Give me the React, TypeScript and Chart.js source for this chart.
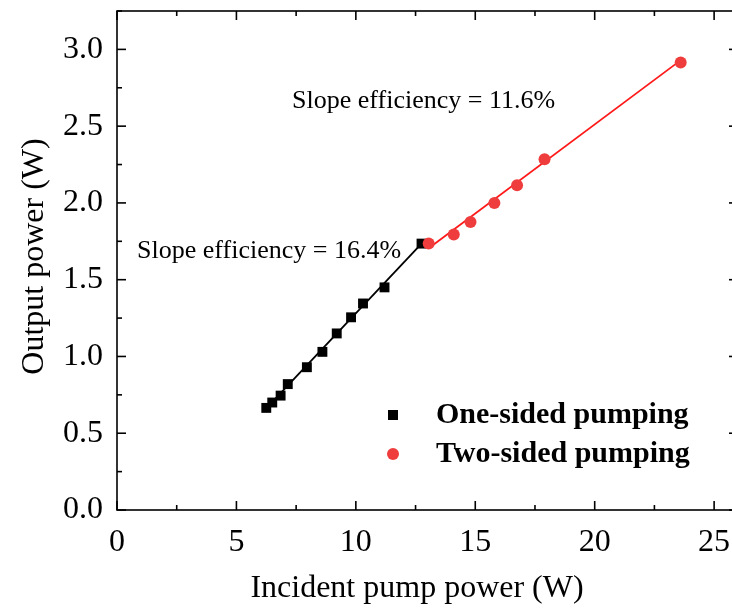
import React, { useEffect, useRef } from "react";
import { Chart, registerables } from "chart.js";

Chart.register(...registerables);

// ---- Data ----
const oneSidedPump = [6.25, 6.5, 6.85, 7.15, 7.95, 8.6, 9.2, 9.8, 10.3, 11.2, 12.75];
const oneSidedOutput = [0.665, 0.7, 0.745, 0.82, 0.93, 1.03, 1.15, 1.255, 1.345, 1.45, 1.735];
const twoSidedPump = [13.05, 14.1, 14.8, 15.8, 16.75, 17.9, 23.6];
const twoSidedOutput = [1.735, 1.795, 1.875, 2.0, 2.115, 2.285, 2.915];
const oneFitPump = [6.15, 12.75];
const oneFitOutput = [0.645, 1.735];
const twoFitPump = [13.05, 23.65];
const twoFitOutput = [1.705, 2.935];

const seriesLabels = ["One-sided pumping", "Two-sided pumping"];
const slopeLabels = ["Slope efficiency = 16.4%", "Slope efficiency = 11.6%"];
const xTitle = "Incident pump power (W)";
const yTitle = "Output power (W)";

const X_MIN = 0;
const X_MAX = 26;
const X_STEP = 5;
const Y_MIN = 0;
const Y_MAX = 3.25;
const Y_STEP = 0.5;

const BLACK = "#000000";
const RED_POINT = "#ef3d3d";
const RED_LINE = "#ff1a1a";
const SERIF = "'Liberation Serif', 'Times New Roman', serif";

const CANVAS_W = 745;
const CANVAS_H = 608;

const toXY = (xs: number[], ys: number[]) => xs.map((x, i) => ({ x, y: ys[i] }));

const framePlugin = {
  id: "frameAndText",
  afterDraw(chart: any) {
    const { ctx, chartArea: a, scales } = chart;
    const xs = scales.x;
    const ys = scales.y;
    ctx.save();
    ctx.strokeStyle = BLACK;
    ctx.lineWidth = 1.6;
    ctx.lineCap = "butt";
    ctx.strokeRect(a.left, a.top, a.right - a.left, a.bottom - a.top);

    const seg = (x1: number, y1: number, x2: number, y2: number) => {
      ctx.beginPath();
      ctx.moveTo(x1, y1);
      ctx.lineTo(x2, y2);
      ctx.stroke();
    };
    // x ticks (major + minor), bottom and top, pointing inward
    for (let i = 0; X_MIN + i * (X_STEP / 2) <= X_MAX + 1e-9; i++) {
      const v = X_MIN + i * (X_STEP / 2);
      const px = xs.getPixelForValue(v);
      const len = i % 2 === 0 ? 9 : 5;
      seg(px, a.bottom, px, a.bottom - len);
      seg(px, a.top, px, a.top + len);
    }
    // y ticks, left and right
    for (let i = 0; Y_MIN + i * (Y_STEP / 2) <= Y_MAX + 1e-9; i++) {
      const v = Y_MIN + i * (Y_STEP / 2);
      const py = ys.getPixelForValue(v);
      const len = i % 2 === 0 ? 9 : 5;
      seg(a.left, py, a.left + len, py);
      seg(a.right, py, a.right - len, py);
    }

    ctx.fillStyle = BLACK;
    // axis titles
    ctx.font = `32px ${SERIF}`;
    ctx.textAlign = "center";
    ctx.textBaseline = "alphabetic";
    ctx.fillText(xTitle, 417, 597);
    ctx.save();
    ctx.translate(43, (a.top + a.bottom) / 2 - 4);
    ctx.rotate(-Math.PI / 2);
    ctx.fillText(yTitle, 0, 0);
    ctx.restore();

    // slope annotations
    ctx.font = `26px ${SERIF}`;
    ctx.textAlign = "left";
    ctx.fillText(slopeLabels[0], xs.getPixelForValue(0.84), ys.getPixelForValue(1.64));
    ctx.fillText(slopeLabels[1], xs.getPixelForValue(7.33), ys.getPixelForValue(2.616));

    // legend
    const ds = chart.data.datasets;
    const mx = 393;
    const rows = [415, 454];
    ctx.fillStyle = ds[1].backgroundColor;
    ctx.fillRect(mx - 5, rows[0] - 5, 10, 10);
    ctx.fillStyle = ds[0].backgroundColor;
    ctx.beginPath();
    ctx.arc(mx, rows[1], 6, 0, Math.PI * 2);
    ctx.fill();
    ctx.fillStyle = BLACK;
    ctx.font = `bold 30px ${SERIF}`;
    ctx.textBaseline = "middle";
    ctx.fillText(seriesLabels[0], 436, rows[0]);
    ctx.fillText(seriesLabels[1], 436, rows[1]);
    ctx.restore();
  },
};

export default function App() {
  const canvasRef = useRef<HTMLCanvasElement | null>(null);

  useEffect(() => {
    const canvas = canvasRef.current;
    if (!canvas) return;
    const chart = new Chart(canvas, {
      type: "scatter",
      data: {
        datasets: [
          {
            label: seriesLabels[1],
            data: toXY(twoSidedPump, twoSidedOutput),
            pointStyle: "circle",
            pointRadius: 6,
            backgroundColor: RED_POINT,
            borderColor: RED_POINT,
            borderWidth: 0,
            showLine: false,
          },
          {
            label: seriesLabels[0],
            data: toXY(oneSidedPump, oneSidedOutput),
            pointStyle: "rect",
            pointRadius: 7,
            backgroundColor: BLACK,
            borderColor: BLACK,
            borderWidth: 0,
            showLine: false,
          },
          {
            label: "fit2",
            data: toXY(twoFitPump, twoFitOutput),
            showLine: true,
            pointRadius: 0,
            borderColor: RED_LINE,
            borderWidth: 1.8,
            backgroundColor: RED_LINE,
          },
          {
            label: "fit1",
            data: toXY(oneFitPump, oneFitOutput),
            showLine: true,
            pointRadius: 0,
            borderColor: BLACK,
            borderWidth: 1.8,
            backgroundColor: BLACK,
          },
        ],
      } as any,
      options: {
        responsive: false,
        devicePixelRatio: 1,
        animation: false,
        events: [],
        layout: { padding: { left: 0, right: 7, top: 11, bottom: 0 } },
        plugins: {
          legend: { display: false },
          tooltip: { enabled: false },
          title: { display: false },
        },
        scales: {
          x: {
            type: "linear",
            min: X_MIN,
            max: X_MAX,
            afterFit: (s: any) => {
              s.height = 98;
              s.paddingLeft = 0;
              s.paddingRight = 0;
            },
            grid: { display: false },
            border: { display: false },
            ticks: {
              stepSize: X_STEP,
              includeBounds: false,
              autoSkip: false,
              maxRotation: 0,
              padding: 5,
              color: BLACK,
              font: { family: SERIF, size: 32 },
              callback: (v: any) => String(v),
            },
          },
          y: {
            type: "linear",
            min: Y_MIN,
            max: Y_MAX,
            afterFit: (s: any) => {
              s.width = 117;
              s.paddingTop = 0;
              s.paddingBottom = 0;
            },
            grid: { display: false },
            border: { display: false },
            ticks: {
              stepSize: Y_STEP,
              includeBounds: false,
              autoSkip: false,
              padding: 6,
              color: BLACK,
              font: { family: SERIF, size: 32 },
              callback: (v: any) => Number(v).toFixed(1),
            },
          },
        },
      } as any,
      plugins: [framePlugin],
    });
    return () => chart.destroy();
  }, []);

  return (
    <div
      style={{
        position: "absolute",
        left: 0,
        top: 0,
        width: 732,
        height: 608,
        overflow: "hidden",
        background: "#ffffff",
      }}
    >
      <canvas
        ref={canvasRef}
        width={CANVAS_W}
        height={CANVAS_H}
        style={{ display: "block", width: CANVAS_W, height: CANVAS_H }}
      />
    </div>
  );
}
